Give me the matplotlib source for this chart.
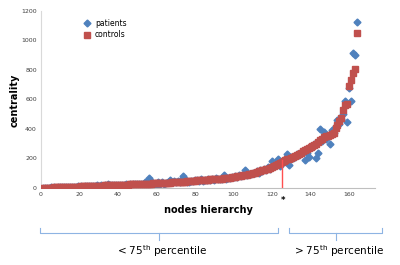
import matplotlib
matplotlib.use("Agg")
import matplotlib.pyplot as plt
from matplotlib.lines import Line2D

controls = [
    1, 1, 2, 2, 3, 3, 4, 4, 5, 5, 6, 6, 7, 7, 8, 8, 9, 9, 10, 10,
    11, 11, 12, 12, 13, 13, 14, 14, 15, 15, 16, 16, 17, 17, 18, 19, 19, 20, 20, 21,
    21, 22, 22, 23, 23, 24, 24, 25, 25, 26, 26, 27, 28, 28, 29, 29, 30, 31, 31, 32,
    33, 33, 34, 35, 35, 36, 37, 38, 38, 39, 40, 41, 42, 43, 44, 45, 46, 47, 48, 50,
    51, 52, 53, 54, 55, 56, 57, 58, 59, 60, 61, 62, 63, 64, 65, 67, 69, 71, 73, 75,
    77, 79, 81, 83, 85, 87, 90, 93, 96, 100,
    104, 108, 112, 116, 120, 124, 128, 132, 137, 142,
    150, 158, 165, 172, 178, 185, 190, 195, 200, 204,
    210, 218, 225, 232, 240, 248, 255, 262, 270, 278,
    285, 292, 300, 310, 325, 335, 343, 350, 355, 360,
    365, 372, 405, 430, 455, 475, 530, 560, 570, 690, 732, 780, 807, 1051,
]
patients = [
    2, 0, 3, 1, 4, 2, 5, 3, 6, 4, 7, 5, 8, 6, 10, 7, 10, 8, 11, 9,
    12, 10, 13, 11, 15, 12, 16, 13, 17, 14, 22, 15, 18, 16, 25, 20, 18, 21, 19, 22,
    20, 23, 21, 24, 22, 26, 23, 27, 24, 28, 25, 30, 27, 40, 35, 68, 45, 30, 2, 20,
    38, 30, 40, 28, 36, 42, 55, 40, 45, 38, 50, 42, 60, 81, 58, 40, 44, 50, 46, 52,
    55, 48, 58, 50, 57, 52, 60, 55, 62, 56, 65, 58, 64, 60, 88, 62, 70, 66, 75, 72,
    80, 74, 85, 78, 90, 122, 88, 95, 92, 105,
    100, 112, 105, 120, 115, 130, 122, 140, 128, 180,
    160, 175, 197, 150, 170, 190, 200, 230, 156, 210,
    205, 212, 230, 225, 245, 250, 190, 240, 210, 285,
    280, 300, 203, 240, 400, 320, 380, 330, 350, 300,
    390, 370, 420, 460, 434, 470, 500, 590, 448, 678, 590, 915, 902, 1125,
]
nodes = list(range(1, len(controls) + 1))
x_ticks = [0, 20, 40, 60, 80, 100, 120, 140, 160]
y_ticks = [0, 200, 400, 600, 800, 1000, 1200]
cutoff = 125
cutoff_height = 190

W, H = 400, 265
fig = plt.figure(figsize=(4.0, 2.65), dpi=100)
ax = fig.add_axes([41 / W, 1 - 188 / H, (375 - 41) / W, (188 - 11) / H])

blue = "#4f81bd"
red = "#c0504d"
ax.plot(nodes, patients, linestyle="none", marker="D", ms=3.5, color=blue,
        mec=blue, label="patients", zorder=2)
ax.plot(nodes, controls, linestyle="none", marker="s", ms=4.1, color=red,
        mec=red, label="controls", zorder=3)
ax.plot([cutoff, cutoff], [0, cutoff_height], color="#ff5050", lw=1.0, zorder=4)

ax.set_xlim(0, 173.5)
ax.set_ylim(0, 1200)
ax.set_xticks(x_ticks)
ax.set_yticks(y_ticks)
ax.tick_params(length=0, labelsize=4.5, labelcolor="#404040", pad=3)
for s in ["top", "right"]:
    ax.spines[s].set_visible(False)
ax.spines["left"].set_color("#d9d9d9")
ax.spines["bottom"].set_color("#bfbfbf")
ax.spines["left"].set_linewidth(0.8)
ax.spines["bottom"].set_linewidth(0.8)

fig.text(15 / W, 1 - 100 / H, "centrality", rotation=90, ha="center", va="center",
         fontsize=7, fontweight="bold")
fig.text(208 / W, 1 - 210 / H, "nodes hierarchy", ha="center", va="center",
         fontsize=7, fontweight="bold")
fig.text(283 / W, 1 - 200 / H, "*", ha="center", va="center", fontsize=6,
         fontweight="bold")

leg = ax.legend(loc="upper left", bbox_to_anchor=(82 / W, 1 - 19 / H),
                bbox_transform=fig.transFigure, frameon=False, fontsize=5.5,
                handletextpad=0.5, labelspacing=0.3, handlelength=1.2,
                borderaxespad=0, borderpad=0)

bc = "#8eb4e3"
def brace(x0, x1, xm):
    fy = lambda y: 1 - y / H
    fx = lambda x: x / W
    fig.add_artist(Line2D([fx(x0), fx(x0), fx(x1), fx(x1)],
                          [fy(228), fy(233), fy(233), fy(228)], color=bc, lw=0.8))
    fig.add_artist(Line2D([fx(xm), fx(xm)], [fy(233), fy(240)], color=bc, lw=0.8))

brace(40, 278, 159)
brace(289, 382, 336)

fig.text(162 / W, 1 - 251 / H, r"< 75$^{\mathregular{th}}$ percentile",
         ha="center", va="center", fontsize=7.5)
fig.text(339 / W, 1 - 251 / H, r"> 75$^{\mathregular{th}}$ percentile",
         ha="center", va="center", fontsize=7.5)

fig.savefig("out.png", dpi=100)
